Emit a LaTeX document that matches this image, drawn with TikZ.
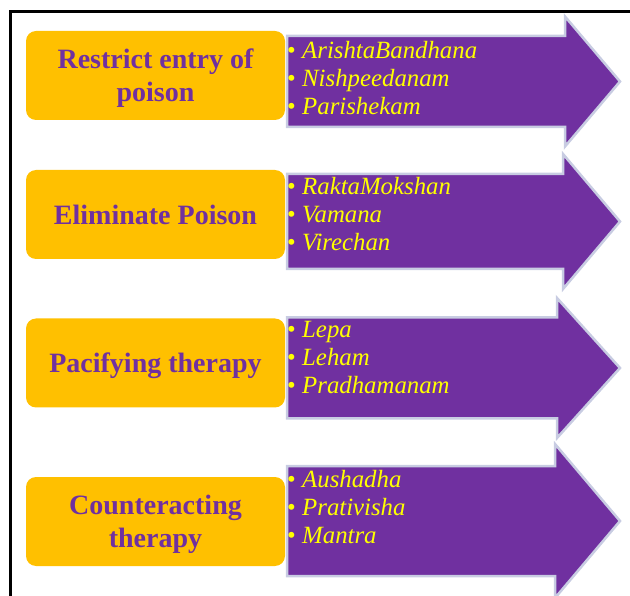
\documentclass[tikz,border=0pt]{standalone}
\usepackage{fontspec}
\setmainfont{Liberation Serif}
\usepackage{tikz}
\usetikzlibrary{positioning}
\definecolor{boxorange}{HTML}{FFC000}
\definecolor{curepurple}{HTML}{7030A0}
\definecolor{listyellow}{HTML}{FFFF00}
\definecolor{arrowedge}{RGB}{200,204,226}
\newcommand{\pnt}{\makebox[15pt][l]{\upshape\textbullet}}
\newcommand{\remedies}[3]{\begin{tabular}[t]{@{}l@{}}\pnt #1\\\pnt #2\\\pnt #3\end{tabular}}
\tikzset{
cure box/.style = { rectangle, rounded corners = 10pt, fill = boxorange, text = curepurple, font = \fontsize{28}{33}\selectfont\bfseries, align = center, minimum width = 259pt, minimum height = 89pt, inner sep = 0pt, text depth = 0pt },
remedy list/.style = { anchor = base west, inner sep = 0pt, text = listyellow, font = \fontsize{24.8}{28}\selectfont\itshape },
}
\tikzset{
pics/remedy arrow/.style args={#1, #2, #3}{
        code = {
        % body half height, head half height, start of the head
        \path[draw = arrowedge, fill = curepurple, line width = 2.5pt] (0, -#1) -- (#3, -#1) -- (#3, -#2) -- (333, 0) -- (#3, #2) -- (#3, #1) -- (0, #1) -- cycle;
        }
    }
}
\begin{document}
\begin{tikzpicture}[x = 1pt, y = -1pt]
      \clip (0, 0) rectangle (630, 596);
      \draw[line width = 3pt] (10, 12) rectangle (660, 640);
      \node[cure box] (restrict) at (155.5, 75.5) {Restrict entry of\\poison};
      \node[cure box] (eliminate) at (155.5, 214.5) {Eliminate Poison};
      \node[cure box] (pacify) at (155.5, 363) {Pacifying therapy};
      \node[cure box] (counteract) at (155.5, 521.5) {Counteracting\\therapy};
      \draw (287, 81.5) pic{remedy arrow = {45.5, 65, 278}};
      \draw (287, 221.5) pic{remedy arrow = {47.5, 67.5, 276}};
      \draw (287, 368) pic{remedy arrow = {50.5, 70, 270}};
      \draw (287, 521) pic{remedy arrow = {55, 77, 268}};
      \node[remedy list] (restrictlist) at (287, 59) {\remedies{ArishtaBandhana}{Nishpeedanam}{Parishekam}};
      \node[remedy list] (eliminatelist) at (287, 195) {\remedies{RaktaMokshan}{Vamana}{Virechan}};
      \node[remedy list] (pacifylist) at (287, 338) {\remedies{Lepa}{Leham}{Pradhamanam}};
      \node[remedy list] (counteractlist) at (287, 487) {\remedies{Aushadha}{Prativisha}{Mantra}};
    \end{tikzpicture}
\end{document}
